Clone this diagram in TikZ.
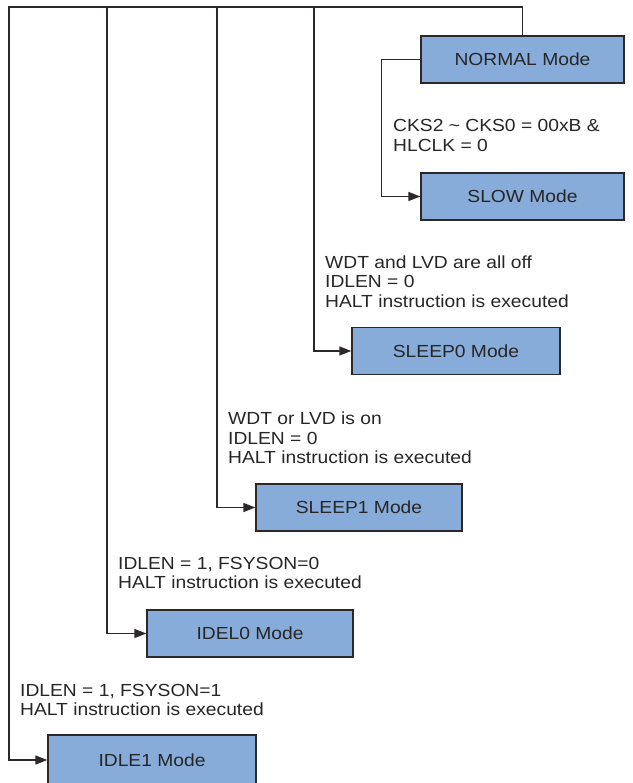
\documentclass[tikz,border=0pt]{standalone}
\usepackage{fontspec}
\setmainfont{Liberation Sans}[FakeStretch=1.1]
\usetikzlibrary{arrows.meta}

\definecolor{modeblue}{RGB}{135,172,218}
\definecolor{wiregray}{RGB}{45,40,40}

\tikzset{
  mode/.style={draw=wiregray, fill=modeblue, line width=1.4pt, minimum width=205pt,
    minimum height=47pt, inner sep=0pt, text=black!85, font=\fontsize{17.5}{19}\selectfont},
  wire/.style={draw=wiregray, line width=1.5pt, -{Triangle[length=12pt,width=9pt]}},
  cond/.style={anchor=north west, align=left, inner sep=0pt, text=black!85,
    font=\fontsize{17.5}{19.5}\selectfont}
}

\begin{document}
\begin{tikzpicture}[x=1pt, y=-1pt]
                \useasboundingbox (0,0) rectangle (632,783);
                % Mode boxes:
                \node[mode, minimum width=203pt] (normal) at (522.5, 59.5) {NORMAL Mode};
                \node[mode, minimum width=203pt] (slow) at (522.5, 196.5) {SLOW Mode};
                \node[mode, minimum width=208pt] (sleep0) at (456, 351) {SLEEP0 Mode};
                \node[mode, minimum width=206pt] (sleep1) at (359, 507.5) {SLEEP1 Mode};
                \node[mode, minimum width=206pt] (idel0) at (250, 633.5) {IDEL0 Mode};
                \node[mode, minimum width=208pt, minimum height=50pt] (idle1) at (152, 760) {IDLE1 Mode};
                % Conditions:
                \node[cond] (cks) at (393, 119.3) {CKS2 \textasciitilde{} CKS0 = 00xB \&\\HLCLK = 0};
                \node[cond] (alloff) at (325, 255.5) {WDT and LVD are all off\\IDLEN = 0\\HALT instruction is executed};
                \node[cond] (ison) at (228, 412) {WDT or LVD is on\\IDLEN = 0\\HALT instruction is executed};
                \node[cond] (fsys0) at (118, 557) {IDLEN = 1, FSYSON=0\\HALT instruction is executed};
                \node[cond] (fsys1) at (20, 684) {IDLEN = 1, FSYSON=1\\HALT instruction is executed};
                % Wires:
                \coordinate (bus0) at (9, 7);
                \coordinate (bus1) at (107, 7);
                \coordinate (bus2) at (217, 7);
                \coordinate (bus3) at (314, 7);
                \draw[wire] (normal.west) -- ++(-39, 0) |- (slow.west);
                \draw[wire] (normal.north) |- (bus0) |- (idle1.west);
                \draw[wire] (bus1) |- (idel0.west);
                \draw[wire] (bus2) |- (sleep1.west);
                \draw[wire] (bus3) |- (sleep0.west);
            \end{tikzpicture}
\end{document}
